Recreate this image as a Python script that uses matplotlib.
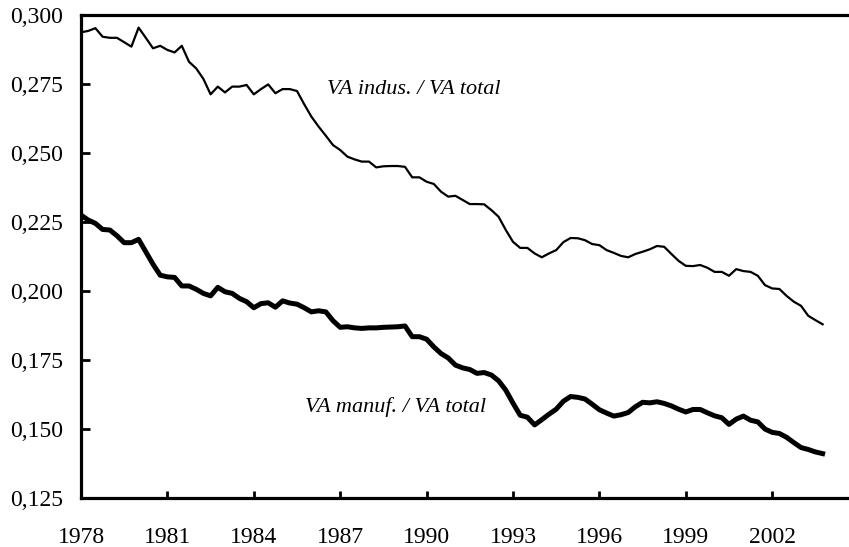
# ==============================
# 1. Import Libraries
# ==============================
import numpy as np
import matplotlib
matplotlib.use("Agg")
import matplotlib.pyplot as plt

# ==============================
# 2. Data (quarterly, 1978Q1 - 2003Q4)
# ==============================
start_year = 1978

va_indus = [
    0.2939, 0.2944, 0.2954, 0.2923, 0.2919, 0.2919, 0.2903, 0.2887,
    0.2956, 0.2919, 0.2881, 0.2890, 0.2875, 0.2866, 0.2890, 0.2832,
    0.2808, 0.2770, 0.2714, 0.2742, 0.2721, 0.2742, 0.2742, 0.2748,
    0.2714, 0.2733, 0.2750, 0.2718, 0.2733, 0.2733, 0.2726, 0.2678,
    0.2633, 0.2597, 0.2564, 0.2530, 0.2512, 0.2488, 0.2478, 0.2470,
    0.2470, 0.2449, 0.2453, 0.2454, 0.2454, 0.2451, 0.2413, 0.2413,
    0.2397, 0.2389, 0.2361, 0.2343, 0.2346, 0.2331, 0.2316, 0.2316,
    0.2315, 0.2294, 0.2270, 0.2222, 0.2179, 0.2157, 0.2157, 0.2137,
    0.2123, 0.2137, 0.2149, 0.2178, 0.2193, 0.2192, 0.2185, 0.2171,
    0.2167, 0.2149, 0.2139, 0.2128, 0.2123, 0.2135, 0.2143, 0.2152,
    0.2164, 0.2161, 0.2135, 0.2110, 0.2092, 0.2091, 0.2095, 0.2085,
    0.2070, 0.2070, 0.2056, 0.2080, 0.2073, 0.2070, 0.2056, 0.2022,
    0.2010, 0.2008, 0.1983, 0.1962, 0.1947, 0.1911, 0.1895, 0.1880,
]

va_manuf = [
    0.2276, 0.2258, 0.2246, 0.2224, 0.2222, 0.2201, 0.2176, 0.2176,
    0.2188, 0.2143, 0.2098, 0.2058, 0.2052, 0.2050, 0.2019, 0.2019,
    0.2007, 0.1992, 0.1983, 0.2014, 0.1998, 0.1992, 0.1974, 0.1962,
    0.1940, 0.1955, 0.1958, 0.1942, 0.1965, 0.1957, 0.1953, 0.1940,
    0.1925, 0.1929, 0.1925, 0.1893, 0.1869, 0.1871, 0.1867, 0.1865,
    0.1867, 0.1867, 0.1869, 0.1870, 0.1871, 0.1874, 0.1835, 0.1835,
    0.1826, 0.1798, 0.1774, 0.1758, 0.1732, 0.1722, 0.1716, 0.1702,
    0.1705, 0.1696, 0.1675, 0.1641, 0.1594, 0.1550, 0.1543, 0.1515,
    0.1534, 0.1554, 0.1572, 0.1601, 0.1618, 0.1615, 0.1609, 0.1590,
    0.1570, 0.1558, 0.1547, 0.1552, 0.1560, 0.1581, 0.1597, 0.1595,
    0.1599, 0.1593, 0.1584, 0.1572, 0.1562, 0.1571, 0.1571, 0.1559,
    0.1548, 0.1541, 0.1517, 0.1536, 0.1547, 0.1532, 0.1526, 0.1500,
    0.1488, 0.1484, 0.1470, 0.1451, 0.1433, 0.1426, 0.1417, 0.1411,
]

x_years = [1978, 1981, 1984, 1987, 1990, 1993, 1996, 1999, 2002]
y_ticks = [0.125, 0.150, 0.175, 0.200, 0.225, 0.250, 0.275, 0.300]
y_labels = ["0,125", "0,150", "0,175", "0,200", "0,225", "0,250", "0,275", "0,300"]

label_indus = "VA indus. / VA total"
label_manuf = "VA manuf. / VA total"

dates = start_year + np.arange(len(va_indus)) / 4.0

# ==============================
# 3. Plot
# ==============================
plt.rcParams['font.family'] = ['Liberation Serif', 'DejaVu Serif']

fig = plt.figure(figsize=(8.49, 5.47), dpi=100)
ax = fig.add_axes([0.0954, 0.0896, 0.9046, 0.8821])

ax.plot(dates, va_indus, color='black', linewidth=1.6)
ax.plot(dates, va_manuf, color='black', linewidth=3.6)

ax.text(1986.54, 0.2733, label_indus, fontsize=16, style='italic',
        ha='left', va='center')
ax.text(1985.78, 0.1580, label_manuf, fontsize=16, style='italic',
        ha='left', va='center')

ax.set_xlim(1978, 1978 + 768 / 28.8)
ax.set_ylim(0.125, 0.300)
ax.set_xticks(x_years)
ax.set_xticklabels([str(y) for y in x_years])
ax.set_yticks(y_ticks)
ax.set_yticklabels(y_labels)

ax.spines['right'].set_visible(False)
for side in ['left', 'bottom', 'top']:
    ax.spines[side].set_linewidth(2.3)

ax.tick_params(axis='x', direction='in', length=5, width=2, labelsize=17, pad=21)
ax.tick_params(axis='y', direction='in', length=6.5, width=2, labelsize=17, pad=13)

fig.savefig("out.png", dpi=100)
